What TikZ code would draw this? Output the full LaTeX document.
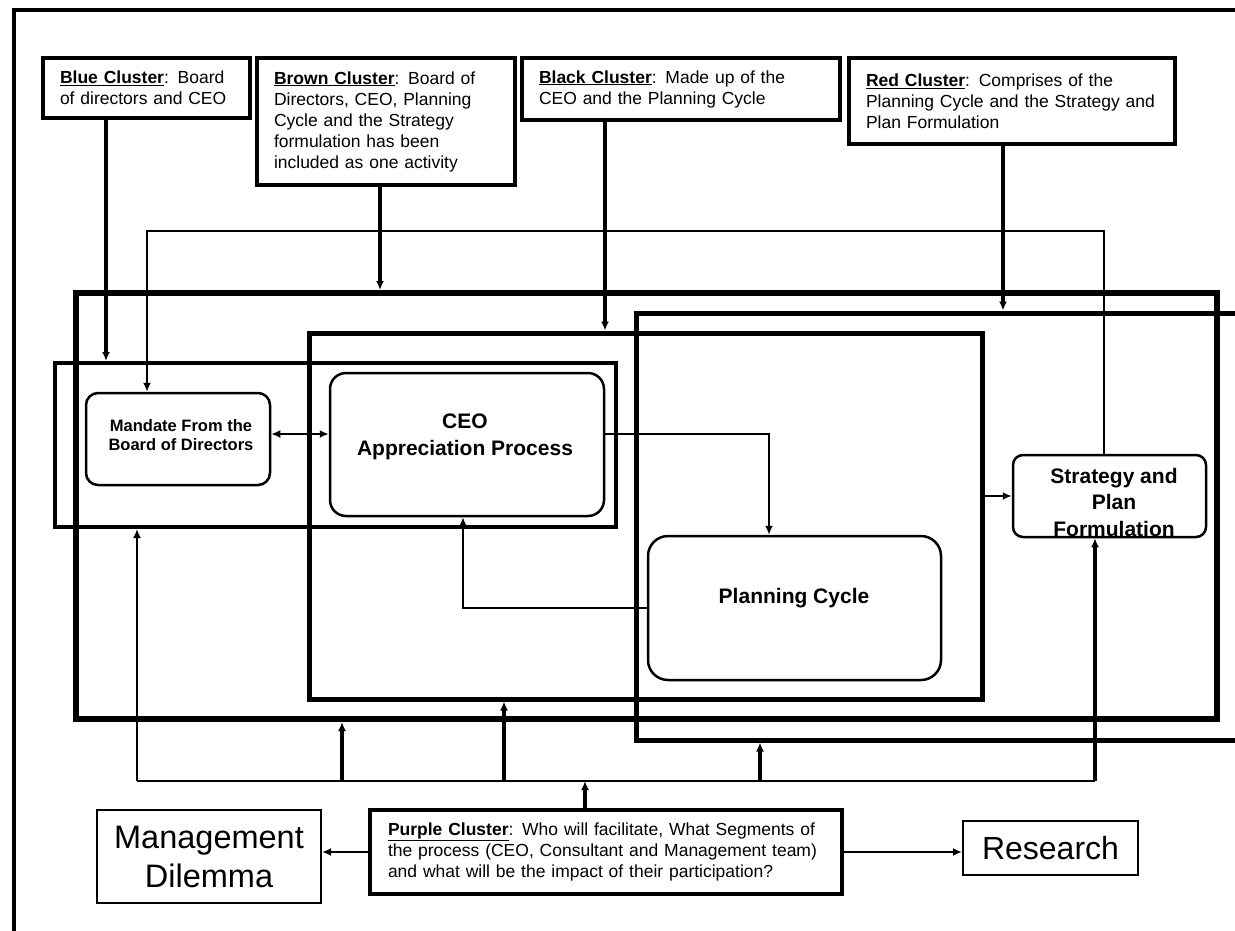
\documentclass[tikz,border=0pt]{standalone}
\usepackage{fontspec}
\setmainfont{Liberation Sans}
\usetikzlibrary{arrows.meta}
\newcommand\setfs[2]{\fontsize{#1}{#2}\selectfont}
\newcommand\cname[1]{\underline{\textbf{#1}}}
\begin{document}
\begin{tikzpicture}[x=1pt,y=-1pt,
  frame/.style={draw,line width=#1,inner sep=0pt},
  clbox/.style={draw,line width=4pt,inner xsep=17pt,inner ysep=0pt,align=left,font=\setfs{17.5}{21}},
  rbox/.style={draw,line width=2.5pt,rounded corners=#1,inner sep=0pt},
  plainbox/.style={draw,line width=2pt,inner sep=0pt,align=center},
  btext/.style={font=\bfseries\setfs{21}{26.5},align=center,inner sep=0pt},
  tip/.style={-{Latex[length=9pt,width=8pt]}},
  thinconn/.style={line width=2pt,tip},
  clconn/.style={line width=3.5pt,tip},
  busline/.style={line width=2.5pt},
  thickconn/.style={line width=4pt,tip}
]
\useasboundingbox (0,0) rectangle (1235,930);
\fill[white] (0,0) rectangle (1235,930);

% outer frame
\node[frame=4pt,minimum width=1246pt,minimum height=950pt] (outer) at (637,485) {};

% cluster description boxes
\node[clbox,text width=173pt,minimum width=207pt,minimum height=60pt] (blue) at (146.5,88)
  {\cname{Blue Cluster}: Board\\of directors and CEO};
\node[clbox,text width=224pt,minimum width=258pt,minimum height=127pt] (brown) at (386,121.5)
  {\cname{Brown Cluster}: Board of\\Directors, CEO, Planning\\Cycle and the Strategy\\formulation has been\\included as one activity};
\node[clbox,text width=284pt,minimum width=318pt,minimum height=62pt] (black) at (681,89)
  {\cname{Black Cluster}: Made up of the\\CEO and the Planning Cycle};
\node[clbox,text width=292pt,minimum width=326pt,minimum height=86pt] (red) at (1012,101)
  {\cname{Red Cluster}: Comprises of the\\\mbox{Planning Cycle and the Strategy and}\\Plan Formulation};

% cluster frames
\node[frame=6pt,minimum width=1141pt,minimum height=426pt] (A) at (646.5,506) {};
\node[frame=5pt,minimum width=673pt,minimum height=366pt] (B) at (645.5,516) {};
\node[frame=5pt,minimum width=624pt,minimum height=427pt] (C) at (948,526.5) {};
\node[frame=4pt,minimum width=561pt,minimum height=164pt] (D) at (335.5,445) {};

% process boxes
\node[rbox=12pt,minimum width=184pt,minimum height=92pt] (mandate) at (178,439) {};
\node[font=\bfseries\setfs{16.5}{18.5},align=center,inner sep=0pt] (mandatet) at (181,435) {Mandate From the\\Board of Directors};
\node[rbox=16pt,minimum width=274pt,minimum height=143pt] (ceo) at (467,444.5) {};
\node[btext] (ceot) at (465,437) {CEO\\Appreciation Process};
\node[rbox=20pt,minimum width=293pt,minimum height=144pt] (planning) at (794.5,608) {};
\node[btext] (planningt) at (794,598) {Planning Cycle};
\node[rbox=10pt,minimum width=193pt,minimum height=82pt] (strategy) at (1109.5,496) {};
\node[btext] (strategyt) at (1114,502) {Strategy and\\Plan\\Formulation};

% bottom boxes
\node[plainbox,font=\setfs{32.5}{39},minimum width=224pt,minimum height=93pt] (mgmt) at (209,856.5) {Management\\Dilemma};
\node[clbox,text width=436pt,inner xsep=18pt,minimum width=472pt,minimum height=84pt] (purple) at (606,852)
  {\cname{Purple Cluster}: Who will facilitate, What Segments of\\the process (CEO, Consultant and Management team)\\and what will be the impact of their participation?};
\node[plainbox,font=\setfs{32}{36},minimum width=175pt,minimum height=54pt] (research) at (1050.5,848) {Research};

% helper coordinates
\coordinate (xblue) at (106,0);
\coordinate (xbrown) at (380,0);
\coordinate (xblack) at (605,0);
\coordinate (xred) at (1003,0);
\coordinate (xfbl) at (147,0);
\coordinate (xfbr) at (1104,0);
\coordinate (yfb) at (0,231);
\coordinate (ymc) at (0,434);
\coordinate (xcp) at (769,0);
\coordinate (xpc) at (463,0);
\coordinate (ybus) at (0,781);
\coordinate (xb1) at (137,0);
\coordinate (xb2) at (342,0);
\coordinate (xb3) at (504,0);
\coordinate (xb4) at (760,0);
\coordinate (xb5) at (1095,0);
\coordinate (xpu) at (585,0);

% cluster arrows
\draw[clconn] (blue.south -| xblue) -- (D.north -| xblue);
\draw[clconn] (brown.south -| xbrown) -- (A.north -| xbrown);
\draw[clconn] (black.south -| xblack) -- (B.north -| xblack);
\draw[clconn] (red.south -| xred) -- (C.north -| xred);

% feedback loop
\draw[thinconn] (strategy.north -| xfbr) |- (xfbl |- yfb) -- (mandate.north -| xfbl);

% process links
\draw[line width=2pt,{Latex[length=9pt,width=8pt]}-{Latex[length=9pt,width=8pt]}] (mandate.east |- ymc) -- (ceo.west |- ymc);
\draw[thinconn] (ceo.east |- ymc) -| (planning.north -| xcp);
\draw[thinconn] (planning.west) -| (ceo.south -| xpc);
\draw[thinconn] (B.east |- strategy.west) -- (strategy.west);

% bus
\draw[busline] (xb1 |- ybus) -- (xb5 |- ybus);
\draw[busline,tip] (xb1 |- ybus) -- (D.south -| xb1);
\draw[thickconn] (xb2 |- ybus) -- (A.south -| xb2);
\draw[thickconn] (xb3 |- ybus) -- (B.south -| xb3);
\draw[thickconn] (xb4 |- ybus) -- (C.south -| xb4);
\draw[thickconn] (xb5 |- ybus) -- (strategy.south -| xb5);
\draw[thickconn] (purple.north -| xpu) -- (xpu |- ybus);

% purple outputs
\draw[thinconn] (purple.west) -- (mgmt.east |- purple.west);
\draw[thinconn] (purple.east) -- (research.west |- purple.east);
\end{tikzpicture}
\end{document}
